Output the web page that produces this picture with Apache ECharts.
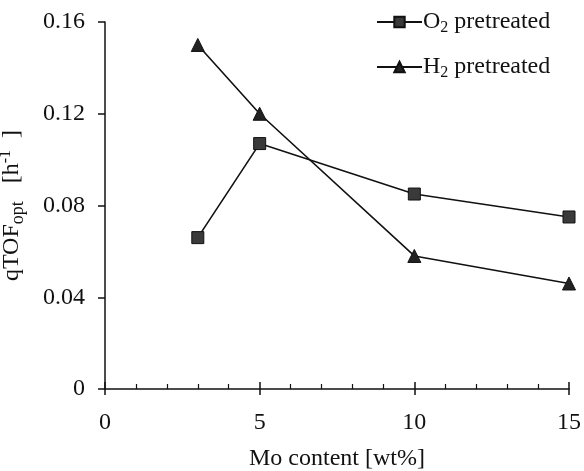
<!DOCTYPE html>
<html>
<head>
<meta charset="utf-8">
<script src="https://cdn.jsdelivr.net/npm/echarts@6/dist/echarts.min.js"></script>
<style>html,body{margin:0;padding:0;background:#fff;}#c{width:584px;height:471px;}</style>
</head>
<body>
<div id="c"></div>
<script>
const moContent = [3, 5, 10, 15];
const o2Values = [0.066, 0.107, 0.085, 0.075];
const h2Values = [0.150, 0.120, 0.058, 0.046];
const yTicks = [0, 0.04, 0.08, 0.12, 0.16];
const xTicks = [0, 5, 10, 15];

const chart = echarts.init(document.getElementById('c'));
const font = '"Liberation Serif", "Times New Roman", serif';
const pair = (xs, ys) => xs.map((x, i) => [x, ys[i]]);
const rich = {
  a: { fontFamily: font, fontSize: 24, color: '#111' },
  s: { fontFamily: font, fontSize: 16, color: '#111', padding: [12, 0, 0, 0] }
};
chart.setOption({
  animation: false,
  backgroundColor: '#fff',
  grid: { left: 105, right: 15, top: 22, bottom: 82, outerBoundsMode: 'none', containLabel: false },
  legend: {
    orient: 'vertical', left: 371, top: 5, itemWidth: 45, itemHeight: 13, itemGap: 19,
    data: ['O2', 'H2'],
    formatter: n => n === 'O2' ? '{a|O}{s|2}{a| pretreated}' : '{a|H}{s|2}{a| pretreated}',
    textStyle: { rich: rich, padding: [0, 0, 0, -4] }
  },
  xAxis: [{
    type: 'value', min: 0, max: 15, interval: 5,
    axisLine: { onZero: false, lineStyle: { color: '#111', width: 1.5 } },
    axisTick: { show: true, inside: true, length: 7, lineStyle: { color: '#111', width: 1.5 } },
    minorTick: { show: true, splitNumber: 5, length: 5, lineStyle: { color: '#111', width: 1.2 } },
    splitLine: { show: false },
    axisLabel: { fontFamily: font, fontSize: 24, color: '#111', margin: 22,
      formatter: v => xTicks.includes(v) ? String(v) : '' },
    name: 'Mo content [wt%]', nameLocation: 'middle', nameGap: 58,
    nameTextStyle: { fontFamily: font, fontSize: 24, color: '#111' }
  }, {
    type: 'value', min: 0, max: 15, interval: 5, position: 'bottom',
    axisLine: { show: false },
    axisTick: { show: true, inside: false, length: 6, lineStyle: { color: '#111', width: 1.5 } },
    axisLabel: { show: false }, splitLine: { show: false }
  }],
  yAxis: {
    type: 'value', min: 0, max: 0.16, interval: 0.04,
    axisLine: { show: true, onZero: false, lineStyle: { color: '#111', width: 1.5 } },
    axisTick: { show: true, inside: false, length: 7, lineStyle: { color: '#111', width: 1.5 } },
    splitLine: { show: false },
    axisLabel: { fontFamily: font, fontSize: 24, color: '#111', margin: 20,
      formatter: v => { const t = yTicks.find(k => Math.abs(k - v) < 1e-9); return t === 0 ? '0' : (t !== undefined ? t.toFixed(2) : ''); } },
    name: '{a|qTOF}{s|opt}{a|   [h}{u|-1}{a|  ]}', nameLocation: 'middle', nameGap: 78, nameRotate: 90,
    nameTextStyle: { padding: [0, 0, 0, 0], rich: Object.assign({}, rich, {
      s: { fontFamily: font, fontSize: 18, color: '#111', padding: [12, 0, 0, 0] },
      u: { fontFamily: font, fontSize: 16, color: '#111', padding: [0, 0, 12, 0] }
    }) }
  },
  series: [{
    name: 'O2', type: 'line', data: pair(moContent, o2Values),
    symbol: 'rect', symbolSize: 12,
    lineStyle: { color: '#111', width: 1.6 },
    itemStyle: { color: '#3a3a3a', borderColor: '#111', borderWidth: 1 }
  }, {
    name: 'H2', type: 'line', data: pair(moContent, h2Values),
    symbol: 'triangle', symbolSize: 13,
    lineStyle: { color: '#111', width: 1.6 },
    itemStyle: { color: '#222', borderColor: '#111', borderWidth: 1 }
  }]
});
</script>
</body>
</html>
